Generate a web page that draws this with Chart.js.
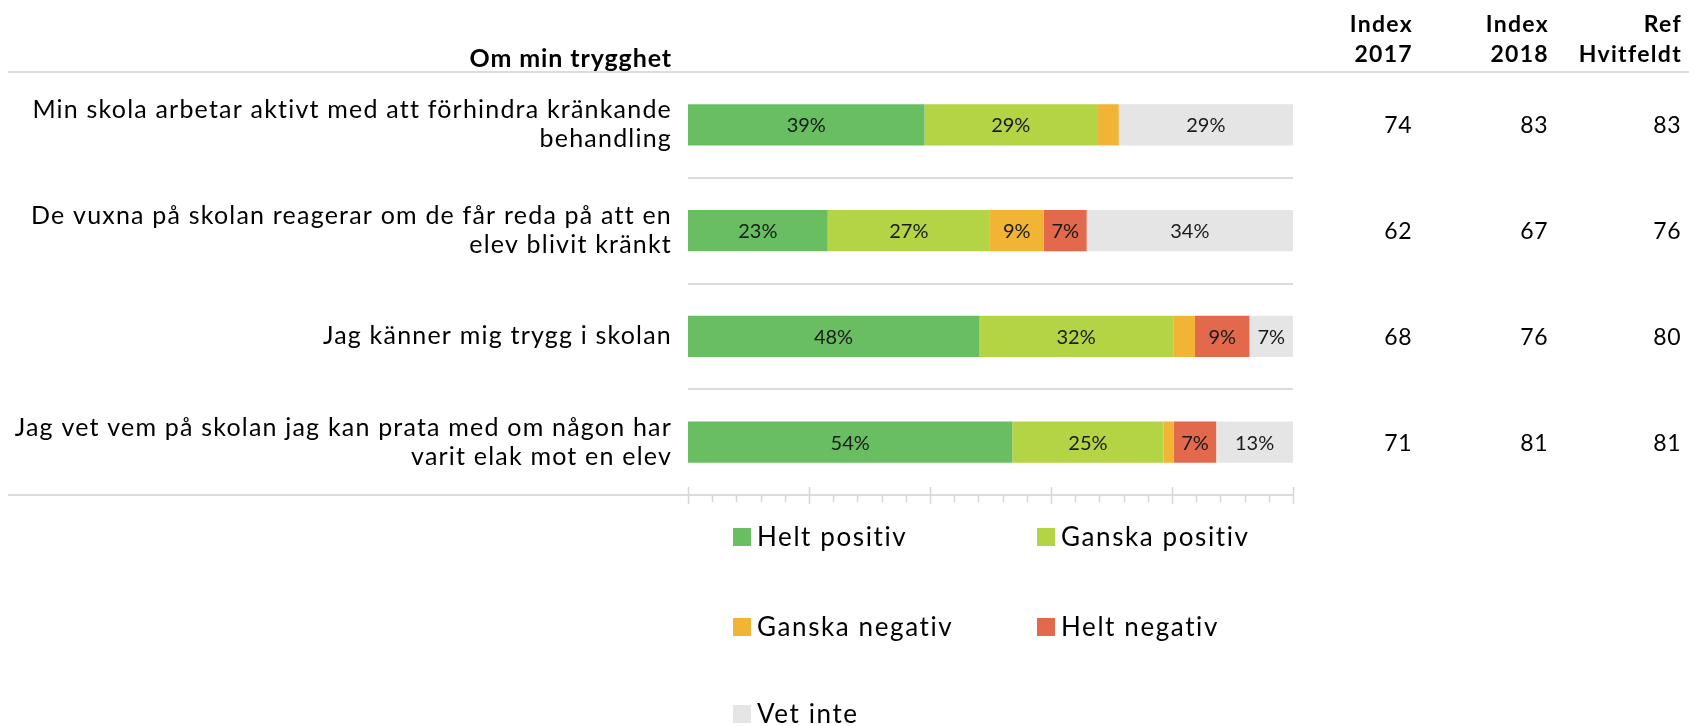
<!DOCTYPE html>
<html>
<head>
<meta charset="utf-8">
<script src="https://cdn.jsdelivr.net/npm/chart.js@4.4.0/dist/chart.umd.min.js"></script>
<style>
  html, body { margin: 0; padding: 0; background: #fff; }
  #wrap { width: 1689px; height: 726px; }
</style>
</head>
<body>
<div id="wrap"><canvas id="chart" width="1689" height="726"></canvas></div>
<script>
// Frågor (kategorier)
const categories = [
  ['Min skola arbetar aktivt med att förhindra kränkande', 'behandling'],
  ['De vuxna på skolan reagerar om de får reda på att en', 'elev blivit kränkt'],
  'Jag känner mig trygg i skolan',
  ['Jag vet vem på skolan jag kan prata med om någon har', 'varit elak mot en elev']
];

// Andelar i procent
const heltPositiv = [39.1, 23.1, 48.1, 53.6];
const ganskaPositiv = [28.5, 26.8, 32.1, 25.0];
const ganskaNegativ = [3.6, 8.9, 3.6, 1.7];
const heltNegativ = [0, 7.1, 9.0, 7.0];
const vetInte = [28.8, 34.1, 7.2, 12.7];

// Indexkolumner till höger
const columnHeaders = [['Index', '2017'], ['Index', '2018'], ['Ref', 'Hvitfeldt']];
const index2017 = [74, 62, 68, 71];
const index2018 = [83, 67, 76, 81];
const refHvitfeldt = [83, 76, 80, 81];

const titleText = 'Om min trygghet';
const FONT = 'Lato, "Open Sans", sans-serif';

// Etiketter i staplarna, rubrik, indexkolumner, axelstreck och förklaring
const extrasPlugin = {
  id: 'extras',
  beforeDraw(chart) {
    // lite luftigare text som i originalet (gäller y-axelns etiketter)
    chart.ctx.letterSpacing = '1.2px';
  },
  afterDatasetsDraw(chart) {
    const ctx = chart.ctx;
    ctx.save();
    ctx.letterSpacing = '0px';
    ctx.font = '20px ' + FONT;
    ctx.fillStyle = '#1a1a1a';
    ctx.textAlign = 'center';
    ctx.textBaseline = 'middle';
    chart.data.datasets.forEach((ds, di) => {
      const meta = chart.getDatasetMeta(di);
      meta.data.forEach((bar, i) => {
        const v = ds.data[i];
        if (v < 5) return;
        ctx.fillText(Math.round(v) + '%', (bar.x + bar.base) / 2, bar.y + 1);
      });
    });
    ctx.restore();
  },
  afterDraw(chart) {
    const ctx = chart.ctx;
    const area = chart.chartArea;
    const x = chart.scales.x;
    const y = chart.scales.y;
    ctx.save();

    // linjer utanför diagramytan
    ctx.strokeStyle = '#dcdcdc';
    ctx.lineWidth = 2;
    ctx.beginPath();
    ctx.moveTo(8, area.top);
    ctx.lineTo(chart.width, area.top);
    ctx.moveTo(8, area.bottom);
    ctx.lineTo(area.right, area.bottom);
    ctx.stroke();

    // streck på x-axeln
    ctx.lineWidth = 1.5;
    ctx.strokeStyle = '#d6d6d6';
    ctx.beginPath();
    for (let v = 0; v <= 100; v += 4) {
      const px = Math.round(x.getPixelForValue(v)) + 0.5;
      if (v % 20 === 0) {
        ctx.moveTo(px, area.bottom - 8);
        ctx.lineTo(px, area.bottom + 9);
      } else {
        ctx.moveTo(px, area.bottom);
        ctx.lineTo(px, area.bottom + 7);
      }
    }
    ctx.stroke();

    // rubrik
    ctx.fillStyle = '#000';
    ctx.textBaseline = 'middle';
    ctx.textAlign = 'right';
    ctx.letterSpacing = '0.9px';
    ctx.font = 'bold 25px ' + FONT;
    ctx.fillText(titleText, 672, 59);

    // indexkolumner
    const colX = [1412, 1548, 1681];
    const cols = [index2017, index2018, refHvitfeldt];
    columnHeaders.forEach((h, c) => {
      ctx.letterSpacing = '1.3px';
      ctx.font = 'bold 23px ' + FONT;
      ctx.fillText(h[0], colX[c] + 1, 25);
      ctx.fillText(h[1], colX[c] + 1, 55);
      ctx.letterSpacing = '0.5px';
      ctx.font = '23px ' + FONT;
      cols[c].forEach((val, i) => {
        ctx.fillText(String(val), colX[c], y.getPixelForValue(i) + 1);
      });
    });

    // förklaring
    const legX = [733, 1037];
    const legY = [537, 627, 714];
    ctx.textAlign = 'left';
    ctx.letterSpacing = '1.6px';
    ctx.font = '26px ' + FONT;
    chart.data.datasets.forEach((ds, i) => {
      const lx = legX[i % 2];
      const ly = legY[Math.floor(i / 2)];
      ctx.fillStyle = ds.backgroundColor;
      ctx.fillRect(lx, ly - 9, 18, 18);
      ctx.fillStyle = '#000';
      ctx.fillText(ds.label, lx + 24, ly + 1);
    });
    ctx.restore();
  }
};

const ctx = document.getElementById('chart').getContext('2d');
new Chart(ctx, {
  type: 'bar',
  data: {
    labels: categories,
    datasets: [
      { label: 'Helt positiv', data: heltPositiv, backgroundColor: '#69be62' },
      { label: 'Ganska positiv', data: ganskaPositiv, backgroundColor: '#b3d445' },
      { label: 'Ganska negativ', data: ganskaNegativ, backgroundColor: '#f1b434' },
      { label: 'Helt negativ', data: heltNegativ, backgroundColor: '#e2694c' },
      { label: 'Vet inte', data: vetInte, backgroundColor: '#e5e5e5' }
    ]
  },
  options: {
    indexAxis: 'y',
    responsive: false,
    animation: false,
    categoryPercentage: 1,
    barPercentage: 0.39,
    layout: { padding: { top: 72, right: 396, bottom: 231, left: 0 } },
    scales: {
      x: { stacked: true, min: 0, max: 100, display: false },
      y: {
        stacked: true,
        grid: { color: '#dcdcdc', lineWidth: 2, drawTicks: false, offset: true },
        border: { display: false },
        ticks: {
          color: '#000',
          padding: 16,
          font: { family: FONT, size: 25, lineHeight: 1.16 }
        },
        afterFit(scale) { scale.width = 688; }
      }
    },
    plugins: {
      legend: { display: false },
      tooltip: { enabled: false }
    }
  },
  plugins: [extrasPlugin]
});
</script>
</body>
</html>
